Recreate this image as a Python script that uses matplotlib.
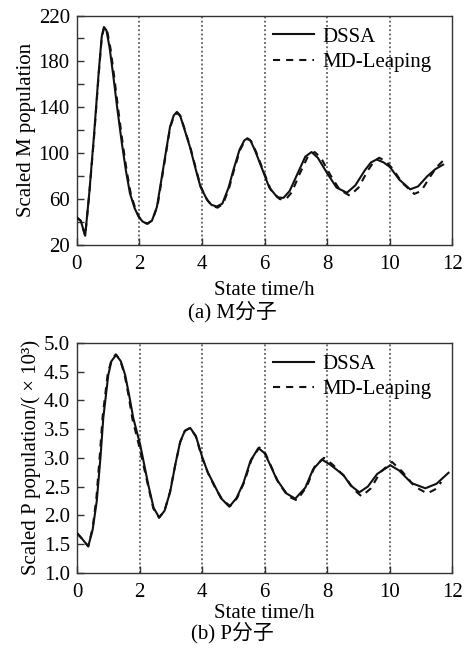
import matplotlib
matplotlib.use("Agg")
import matplotlib.pyplot as plt
from matplotlib.ticker import FixedLocator, FormatStrFormatter

plt.rcParams['font.family'] = ['Liberation Serif', 'Noto Sans CJK SC']

# ---- M molecule data ----
m_dssa_t = [0.0, 0.13, 0.27, 0.4, 0.55, 0.7, 0.8, 0.87, 0.95, 1.05, 1.17, 1.3, 1.44, 1.57, 1.7, 1.85,
            1.97, 2.1, 2.24, 2.4, 2.56, 2.77, 2.98, 3.1, 3.2, 3.3, 3.45, 3.62, 3.8, 3.95, 4.15, 4.3,
            4.47, 4.65, 4.85, 5.0, 5.2, 5.35, 5.45, 5.55, 5.7, 5.94, 6.15, 6.41, 6.6, 6.8, 7.05, 7.3,
            7.5, 7.7, 8.0, 8.3, 8.63, 8.9, 9.2, 9.4, 9.58, 9.8, 10.0, 10.3, 10.65, 10.9, 11.2, 11.45, 11.7]
m_dssa_y = [44, 41, 28, 65, 115, 170, 202, 210, 207, 192, 167, 138, 109, 85, 65, 52,
            45, 40.5, 38.5, 41, 53, 88, 123, 133, 136, 133, 120, 105, 86, 71, 60, 55,
            53.5, 56, 70, 85, 103, 111, 113, 111, 102, 85, 70, 61.5, 61, 67, 82, 97,
            101, 96, 82.5, 70, 65.5, 72, 85, 92, 94.5, 92, 88, 77, 68.5, 71, 80, 86, 90]

m_md_t = [0.0, 0.13, 0.27, 0.4, 0.55, 0.7, 0.8, 0.88, 0.97, 1.08, 1.2, 1.33, 1.47, 1.6, 1.73, 1.88,
          2.0, 2.12, 2.27, 2.42, 2.58, 2.78, 2.98, 3.1, 3.21, 3.32, 3.47, 3.64, 3.82, 3.97, 4.17, 4.33,
          4.5, 4.68, 4.87, 5.02, 5.22, 5.37, 5.47, 5.57, 5.73, 5.97, 6.2, 6.48, 6.67, 6.87, 7.12, 7.38,
          7.6, 7.8, 8.1, 8.4, 8.72, 9.0, 9.3, 9.5, 9.66, 9.88, 10.1, 10.4, 10.78, 11.0, 11.3, 11.5, 11.72]
m_md_y = [44, 41, 28, 64, 113, 168, 201, 210, 207, 191, 166, 137, 108, 84, 64, 51,
          44, 40, 38.5, 42, 54, 88, 122, 132, 135, 132, 119, 104, 85, 70, 59, 54,
          52.5, 56, 70, 85, 103, 111, 112.5, 110.5, 101, 84, 68, 60, 59.5, 66, 82, 97,
          101, 96, 81, 68, 63, 70, 85, 93, 96, 93, 86, 74, 64.5, 67, 80, 88, 94]

# ---- P molecule data (x10^3) ----
p_dssa_t = [0.0, 0.15, 0.36, 0.5, 0.63, 0.75, 0.84, 1.0, 1.1, 1.25, 1.4, 1.54, 1.67, 1.8, 2.02, 2.15,
            2.28, 2.45, 2.63, 2.8, 2.98, 3.15, 3.3, 3.45, 3.62, 3.8, 4.0, 4.18, 4.36, 4.6, 4.87, 5.1,
            5.32, 5.55, 5.8, 6.0, 6.2, 6.39, 6.7, 6.98, 7.3, 7.55, 7.83, 8.1, 8.52, 8.75, 9.03, 9.3,
            9.6, 10.02, 10.3, 10.7, 11.14, 11.5, 11.88]
p_dssa_y = [1.69, 1.60, 1.46, 1.75, 2.24, 3.0, 3.69, 4.44, 4.68, 4.79, 4.68, 4.44, 4.08, 3.69, 3.23, 2.88,
            2.53, 2.13, 1.96, 2.08, 2.41, 2.9, 3.28, 3.47, 3.52, 3.38, 3.02, 2.75, 2.56, 2.3, 2.15, 2.3,
            2.56, 2.95, 3.17, 3.08, 2.85, 2.62, 2.38, 2.29, 2.48, 2.8, 2.97, 2.88, 2.70, 2.52, 2.40, 2.5,
            2.72, 2.87, 2.78, 2.56, 2.47, 2.55, 2.74]

p_md_t = [0.0, 0.15, 0.36, 0.5, 0.62, 0.73, 0.82, 0.98, 1.1, 1.24, 1.38, 1.52, 1.65, 1.77, 1.98, 2.13,
          2.27, 2.44, 2.62, 2.8, 2.97, 3.15, 3.3, 3.45, 3.62, 3.8, 4.0, 4.2, 4.4, 4.65, 4.9, 5.12,
          5.35, 5.58, 5.83, 6.03, 6.25, 6.45, 6.75, 7.03, 7.35, 7.6, 7.9, 8.18, 8.6, 8.85, 9.1, 9.4,
          9.7, 10.07, 10.4, 10.8, 11.2, 11.45, 11.65]
p_md_y = [1.69, 1.60, 1.46, 1.78, 2.3, 3.05, 3.72, 4.45, 4.7, 4.8, 4.7, 4.45, 4.08, 3.68, 3.22, 2.86,
          2.52, 2.12, 1.96, 2.08, 2.4, 2.9, 3.27, 3.47, 3.52, 3.37, 3.0, 2.72, 2.5, 2.27, 2.16, 2.3,
          2.58, 2.97, 3.18, 3.07, 2.8, 2.56, 2.33, 2.26, 2.5, 2.85, 3.0, 2.88, 2.65, 2.45, 2.33, 2.47,
          2.75, 2.93, 2.76, 2.5, 2.38, 2.45, 2.58]

x_ticks = [0, 2, 4, 6, 8, 10, 12]
grid_x = [2, 4, 6, 8, 10]
m_yticks = [20, 60, 100, 140, 180, 220]
m_yminor = [40, 80, 120, 160, 200]
p_yticks = [1.0, 1.5, 2.0, 2.5, 3.0, 3.5, 4.0, 4.5, 5.0]
series_names = ['DSSA', 'MD-Leaping']

fig = plt.figure(figsize=(4.65, 6.48), dpi=100)
ax1 = fig.add_axes([0.165, 0.622, 0.808, 0.354])
ax2 = fig.add_axes([0.1656, 0.116, 0.807, 0.355])

FS = 15
spine_c = '#333333'
line_c = '#111111'
dash = (0, (3.4, 2.9))

def style(ax, xlabelpad):
    for s in ax.spines.values():
        s.set_color(spine_c)
        s.set_linewidth(1.0)
    ax.tick_params(which='both', direction='in', length=5, width=1.0, color=spine_c,
                   labelsize=FS, top=False, right=False)
    ax.tick_params(axis='x', pad=7)
    ax.tick_params(axis='y', pad=5)
    ax.set_xlim(0, 12)
    ax.set_xticks(x_ticks)
    for gx in grid_x:
        ax.axvline(gx, color='#444444', linestyle=(0, (1.2, 1.6)), linewidth=1.1, zorder=1)
    ax.set_xlabel('State time/h', fontsize=FS, labelpad=xlabelpad)

ax1.plot(m_dssa_t, m_dssa_y, color=line_c, lw=1.5, label=series_names[0], zorder=3)
ax1.plot(m_md_t, m_md_y, color=line_c, lw=1.5, linestyle=dash, label=series_names[1], zorder=3)
style(ax1, 5)
ax1.set_ylim(20, 220)
ax1.yaxis.set_major_locator(FixedLocator(m_yticks))
ax1.yaxis.set_minor_locator(FixedLocator(m_yminor))
ax1.set_ylabel('Scaled M population', fontsize=FS, labelpad=2)

ax2.plot(p_dssa_t, p_dssa_y, color=line_c, lw=1.5, label=series_names[0], zorder=3)
ax2.plot(p_md_t, p_md_y, color=line_c, lw=1.5, linestyle=dash, label=series_names[1], zorder=3)
style(ax2, 2)
ax2.set_ylim(1.0, 5.0)
ax2.yaxis.set_major_locator(FixedLocator(p_yticks))
ax2.yaxis.set_major_formatter(FormatStrFormatter('%.1f'))
ax2.set_ylabel('Scaled P population/( × 10³)', fontsize=FS, labelpad=2)

for ax in (ax1, ax2):
    ax.legend(loc='upper left', frameon=False, fontsize=FS, handlelength=1.95,
              handletextpad=0.4, labelspacing=0.28, borderaxespad=0, borderpad=0,
              bbox_to_anchor=(0.523, 0.95))

fig.text(0.5, 1 - 312 / 648, '(a) M分子', ha='center', va='center', fontsize=FS)
fig.text(0.5, 1 - 633 / 648, '(b) P分子', ha='center', va='center', fontsize=FS)

fig.savefig('out.png', dpi=100)
